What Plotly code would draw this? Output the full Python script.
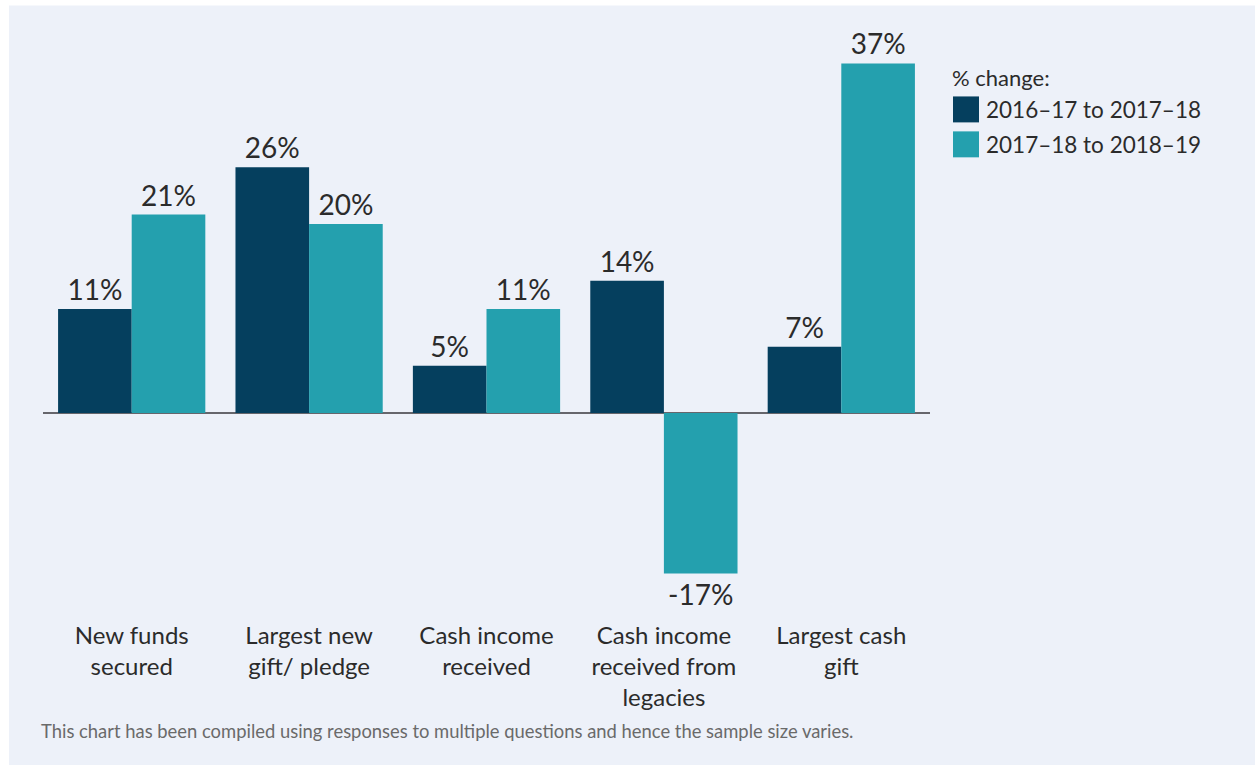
import plotly.graph_objects as go

CATEGORIES = [
    "New funds<br>secured",
    "Largest new<br>gift/ pledge",
    "Cash income<br>received",
    "Cash income<br>received from<br>legacies",
    "Largest cash<br>gift",
]
SERIES_NAMES = ["2016–17 to 2017–18", "2017–18 to 2018–19"]
CHANGE_1617 = [11, 26, 5, 14, 7]
CHANGE_1718 = [21, 20, 11, -17, 37]

DARK = "#053f5e"
TEAL = "#24a0ae"
PANEL = "#edf1f9"
TEXT = "#2b2b2b"
FONT = "Lato, 'Open Sans', sans-serif"

W, H = 1255, 765
L, R, T, B = 43, 325, 53.5, 148.6


def px_x(x):
    return (x - L) / (W - L - R)


def px_y(y):
    return (H - B - y) / (H - T - B)


fig = go.Figure()
for name, values, color in [(SERIES_NAMES[0], CHANGE_1617, DARK), (SERIES_NAMES[1], CHANGE_1718, TEAL)]:
    fig.add_trace(
        go.Bar(
            x=CATEGORIES,
            y=values,
            name=name,
            marker=dict(color=color, line_width=0),
            text=[f"{v}%" for v in values],
            texttemplate="%{text}",
            textposition="outside",
            textfont=dict(size=28, color=TEXT, family=FONT),
            cliponaxis=False,
            hoverinfo="skip",
        )
    )

fig.update_layout(
    width=W,
    height=H,
    barmode="group",
    bargap=0.17,
    bargroupgap=0,
    showlegend=False,
    paper_bgcolor="white",
    plot_bgcolor="rgba(0,0,0,0)",
    margin=dict(l=L, r=R, t=T, b=B, pad=0),
    font=dict(family=FONT, color=TEXT),
)
fig.update_xaxes(
    showgrid=False,
    showline=False,
    ticks="",
    tickfont=dict(size=24, color=TEXT),
    ticklabelstandoff=3,
)
fig.update_yaxes(
    range=[-21.5, 38],
    showgrid=False,
    showticklabels=False,
    zeroline=True,
    zerolinecolor="#66666c",
    zerolinewidth=2,
)

# panel background
fig.add_shape(
    type="rect", xref="paper", yref="paper", layer="below",
    x0=px_x(9), x1=px_x(W + 5), y0=px_y(H + 5), y1=px_y(5),
    fillcolor=PANEL, line_width=0,
)

# legend
fig.add_annotation(
    xref="paper", yref="paper", x=px_x(950), y=px_y(77), xanchor="left", yanchor="middle",
    text="% change:", showarrow=False, font=dict(size=22, color=TEXT),
)
for i, (name, color) in enumerate(zip(SERIES_NAMES, [DARK, TEAL])):
    top = 96 + i * 35
    fig.add_shape(
        type="rect", xref="paper", yref="paper",
        x0=px_x(953), x1=px_x(979), y0=px_y(top + 26), y1=px_y(top),
        fillcolor=color, line_width=0,
    )
    fig.add_annotation(
        xref="paper", yref="paper", x=px_x(984), y=px_y(top + 13), xanchor="left", yanchor="middle",
        text=name, showarrow=False, font=dict(size=22.5, color=TEXT),
    )

# footnote
fig.add_annotation(
    xref="paper", yref="paper", x=px_x(39), y=px_y(732), xanchor="left", yanchor="middle",
    text="This chart has been compiled using responses to multiple questions and hence the sample size varies.",
    showarrow=False, font=dict(size=18.4, color="#6a6a6a"),
)

fig.write_html(
    "out.html",
    config={"displayModeBar": False},
    post_script="document.body.style.margin='0';",
)
